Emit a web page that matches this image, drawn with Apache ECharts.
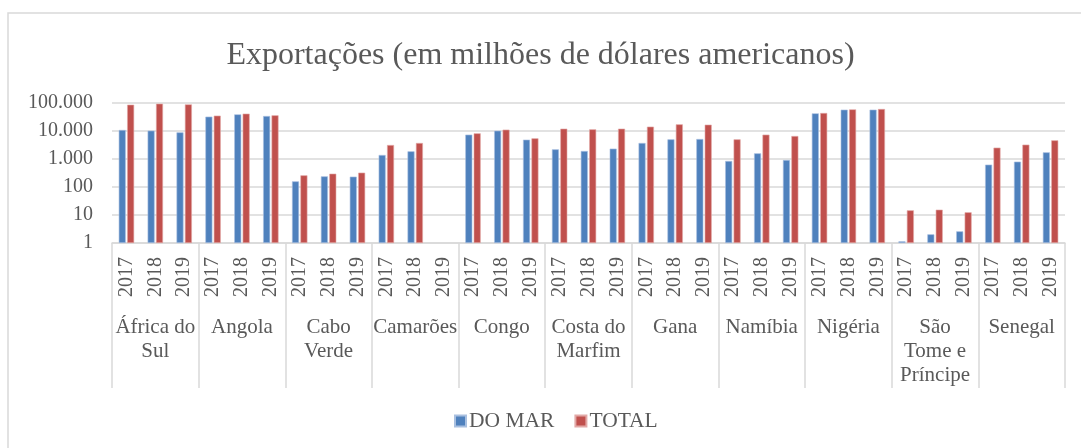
<!DOCTYPE html>
<html>
<head>
<meta charset="utf-8">
<script src="https://cdn.jsdelivr.net/npm/echarts@6/dist/echarts.min.js"></script>
<style>
  html, body { margin: 0; padding: 0; background: #fff; }
  #chart { width: 1081px; height: 448px; }
</style>
</head>
<body>
<div id="chart"></div>
<script>
// dados (escala log)
const countries = ['África do\nSul', 'Angola', 'Cabo\nVerde', 'Camarões', 'Congo', 'Costa do\nMarfim',
  'Gana', 'Namíbia', 'Nigéria', 'São\nTome e\nPríncipe', 'Senegal'];
const years = ['2017', '2018', '2019'];

const doMar = [
  10860, 10300, 8940,     // África do Sul
  32500, 39400, 34300,    // Angola
  159, 240, 234,          // Cabo Verde
  1390, 1880, null,       // Camarões
  7400, 10270, 4900,      // Congo
  2215, 1930, 2340,       // Costa do Marfim
  3730, 5040, 5180,       // Gana
  849, 1593, 921,         // Namíbia
  42760, 57800, 57800,    // Nigéria
  1.15, 2.04, 2.61,       // São Tome e Príncipe
  628, 803, 1730          // Senegal
];
const total = [
  87000, 94700, 89500,
  35300, 41600, 36300,
  261, 299, 325,
  3160, 3730, null,
  8260, 11160, 5470,
  12110, 11480, 12110,
  14290, 17300, 16830,
  5040, 7400, 6630,
  43940, 59400, 61060,
  14.7, 15.5, 12.5,
  2540, 3250, 4640
];
const yTicks = [1, 10, 100, 1000, 10000, 100000];

const yearCats = [];
countries.forEach(() => years.forEach(y => yearCats.push(y)));

const txt = '#595959';
const line = '#d9d9d9';
const font = '"Liberation Serif", "Times New Roman", serif';

const fmt = v => String(Math.round(v)).replace(/\B(?=(\d{3})+(?!\d))/g, '.');

const option = {
  animation: false,
  textStyle: { fontFamily: font, color: txt },
  graphic: [{
    type: 'rect',
    shape: { x: 8, y: 13, width: 1100, height: 460 },
    style: { fill: 'none', stroke: line, lineWidth: 1.5 },
    silent: true
  }],
  title: {
    text: 'Exportações (em milhões de dólares americanos)',
    left: 'center',
    top: 35,
    textStyle: { fontFamily: font, fontSize: 32, fontWeight: 'normal', color: txt }
  },
  legend: {
    data: ['DO MAR', 'TOTAL'],
    left: 454,
    top: 410,
    padding: 0,
    itemWidth: 11,
    itemHeight: 11,
    itemGap: 20,
    icon: 'rect',
    textStyle: { fontFamily: font, fontSize: 21.5, color: txt, padding: [0, 0, 0, -2] }
  },
  grid: { left: 112, right: 16, top: 103, bottom: 205 },
  xAxis: [
    {
      type: 'category',
      data: yearCats,
      axisLine: { lineStyle: { color: line, width: 1.5 } },
      axisTick: { show: false },
      axisLabel: { rotate: 90, interval: 0, margin: 14, fontFamily: font, fontSize: 20, color: txt }
    },
    {
      type: 'category',
      data: countries,
      position: 'bottom',
      axisLine: { show: false },
      axisTick: { show: true, length: 145, lineStyle: { color: line, width: 1.5 } },
      axisLabel: { interval: 0, margin: 72, fontFamily: font, fontSize: 21, lineHeight: 24, color: txt }
    }
  ],
  yAxis: {
    type: 'log',
    logBase: 10,
    min: yTicks[0],
    max: yTicks[yTicks.length - 1],
    axisLine: { show: false },
    axisTick: { show: false },
    splitLine: { lineStyle: { color: line, width: 1.5 } },
    axisLabel: { margin: 19, fontFamily: font, fontSize: 20, color: txt, formatter: fmt }
  },
  series: [
    {
      name: 'DO MAR',
      type: 'bar',
      xAxisIndex: 0,
      data: doMar,
      barWidth: 7,
      barGap: '20%',
      itemStyle: { color: '#4F81BD', borderColor: '#a9c0e0', borderWidth: 0.6 }
    },
    {
      name: 'TOTAL',
      type: 'bar',
      xAxisIndex: 0,
      data: total,
      barWidth: 7,
      barGap: '20%',
      itemStyle: { color: '#C0504D', borderColor: '#e2a9a7', borderWidth: 0.6 }
    }
  ]
};

const myChart = echarts.init(document.getElementById('chart'));
myChart.setOption(option);
</script>
</body>
</html>
